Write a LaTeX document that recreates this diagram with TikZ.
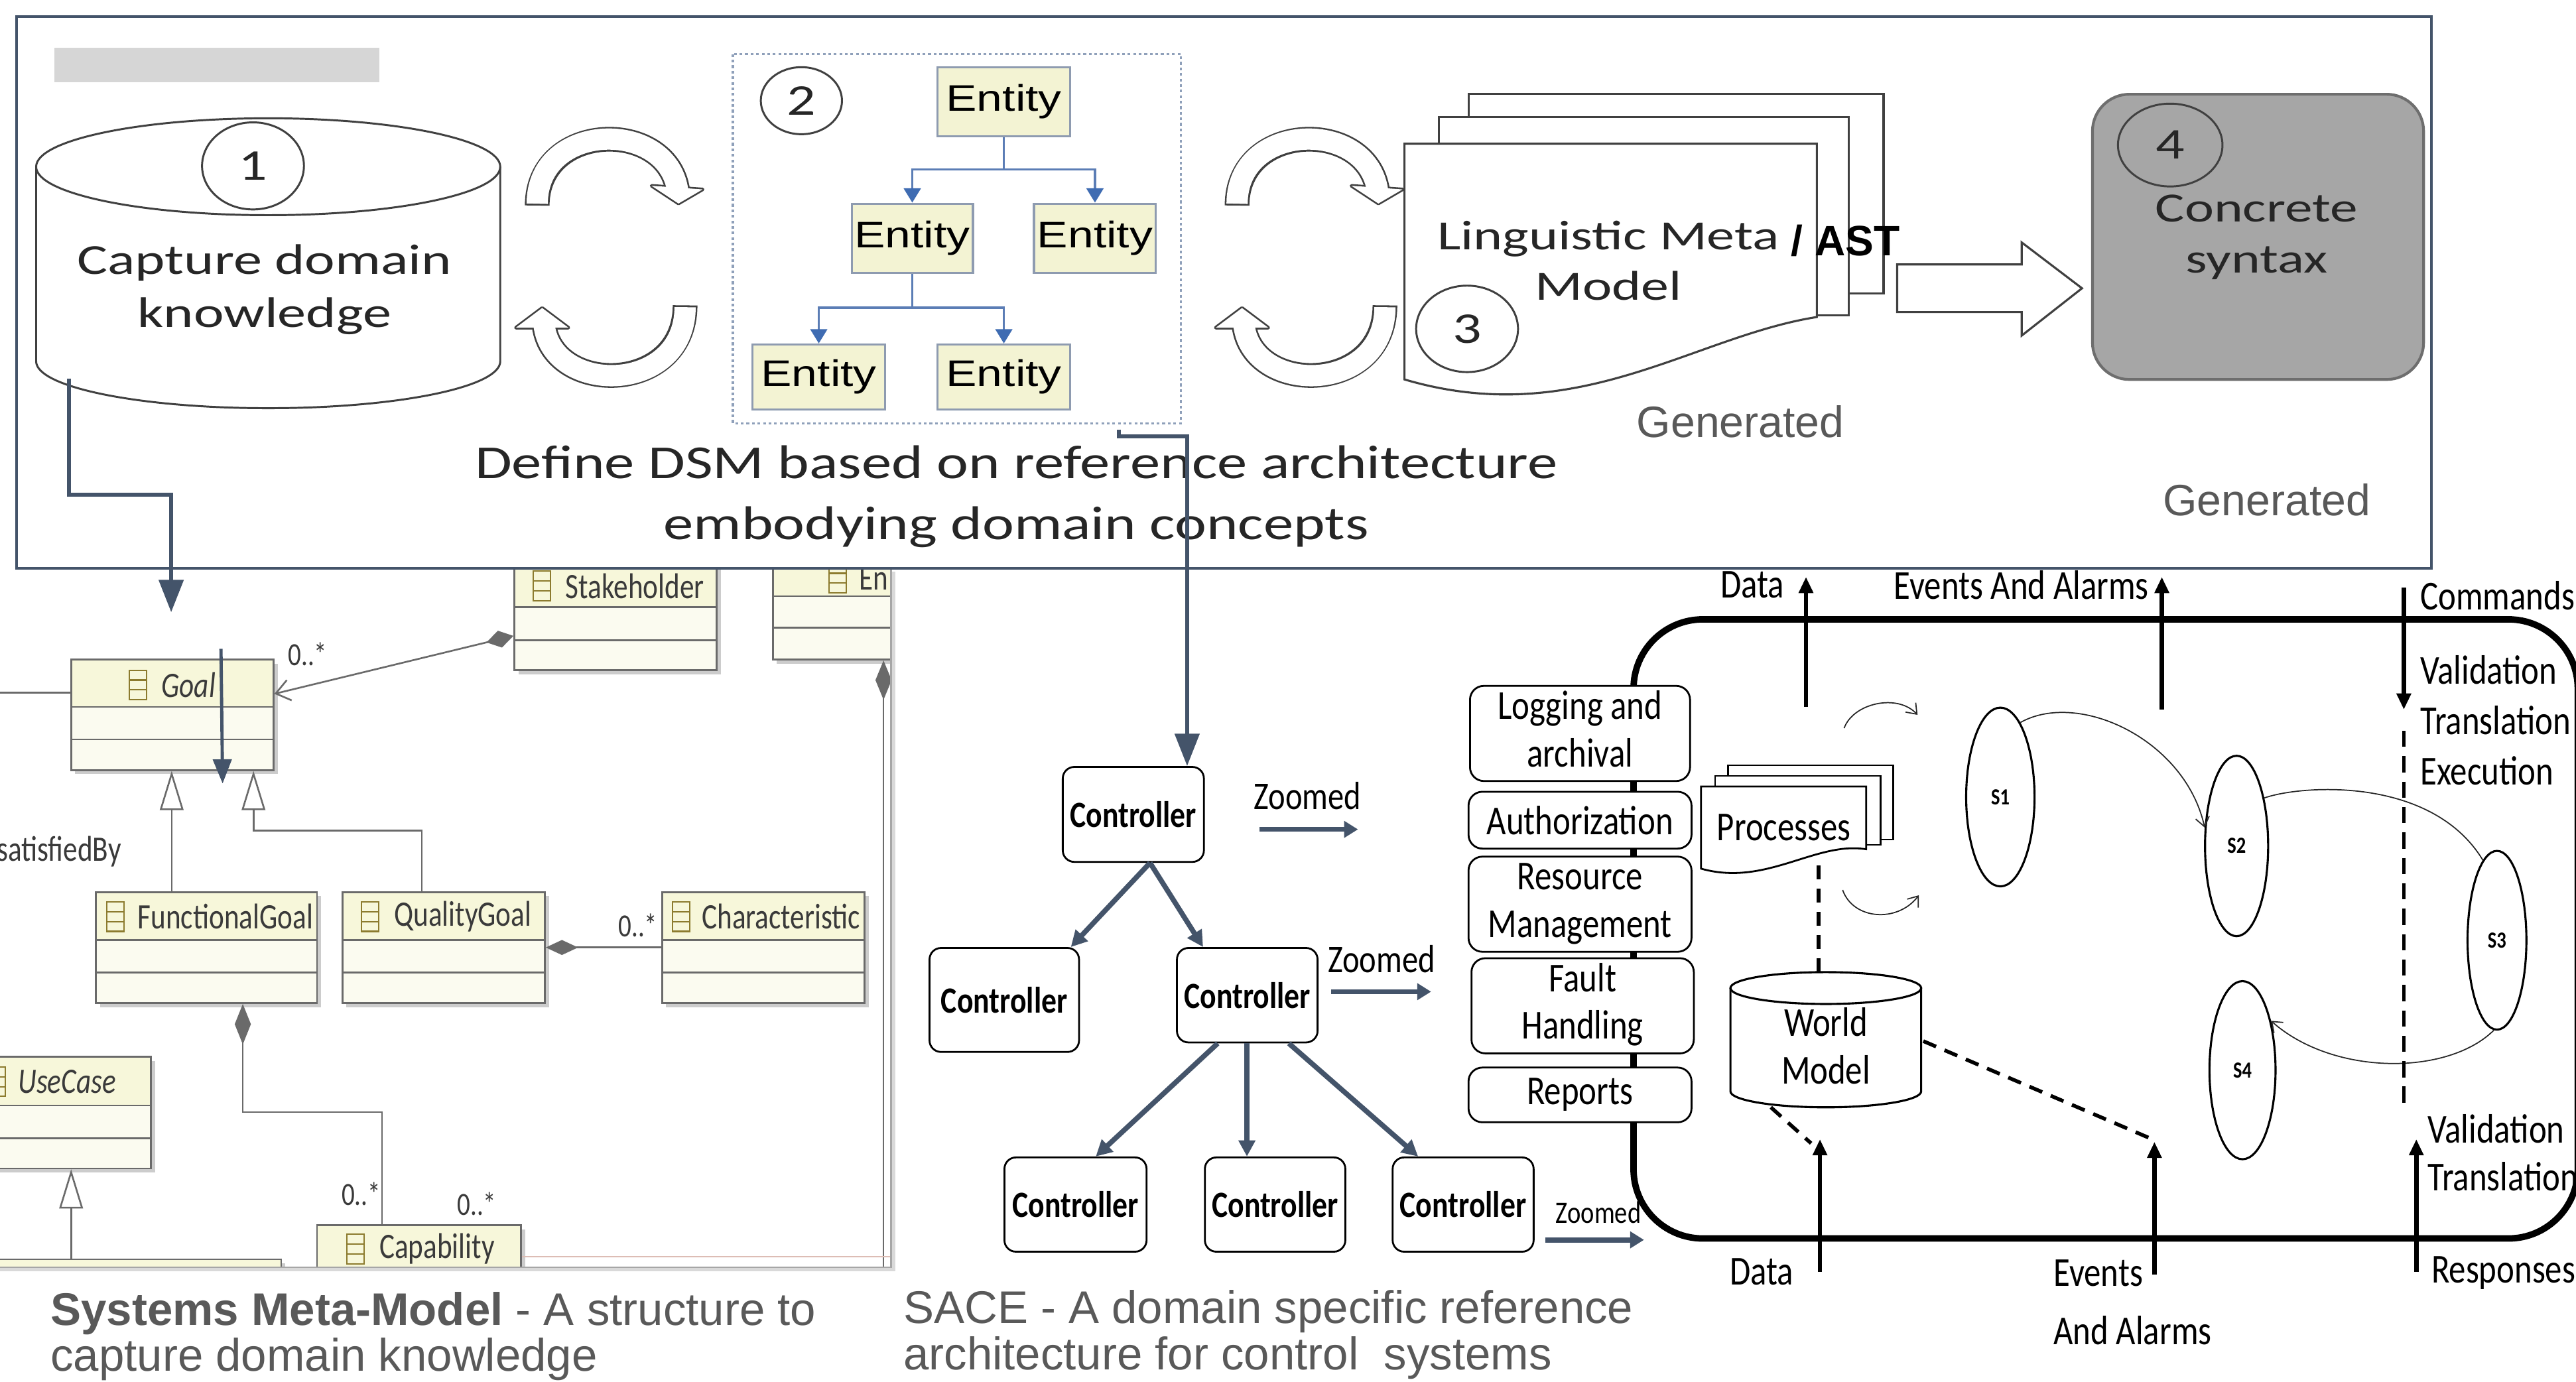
\documentclass[tikz,border=0pt]{standalone}
\usepackage{fontspec}
\usepackage{graphicx}
\setmainfont{Liberation Sans}
\newfontfamily\calfont{Carlito}
\usetikzlibrary{arrows.meta,shapes.geometric,calc}

\definecolor{slate}{HTML}{44546A}
\definecolor{capgray}{HTML}{595959}
\definecolor{txtdark}{HTML}{262626}
\definecolor{outl}{HTML}{404040}
\definecolor{entfill}{HTML}{F3F3D3}
\definecolor{entline}{HTML}{8E9BB0}
\definecolor{entconn}{HTML}{5B7DB5}
\definecolor{entarrow}{HTML}{3F6CB2}
\definecolor{dotline}{HTML}{8FA0BA}
\definecolor{boxgray}{HTML}{A6A6A6}
\definecolor{boxgrayline}{HTML}{6E6E6E}
\definecolor{umlfillA}{HTML}{F7F7DA}
\definecolor{umlfillB}{HTML}{FBFBF0}
\definecolor{umlline}{HTML}{6A6A6A}
\definecolor{umltext}{HTML}{3A3A3A}
\definecolor{iconc}{HTML}{8C7B2E}
\definecolor{pinkl}{HTML}{DDBDB5}
\definecolor{bargray}{HTML}{D6D6D6}

\newcommand{\fsz}[2]{\fontsize{#1}{#2}\selectfont}
\newcommand{\sxx}[2]{\scalebox{#1}[1]{#2}}
\newcommand{\nr}[1]{\scalebox{0.82}[1]{#1}}
\newcommand{\twol}[2]{\begin{tabular}{@{}c@{}}#1\\#2\end{tabular}}

\tikzset{
  umlnode/.style={rectangle, draw=umlline, fill=umlfillB, line width=0.7pt, inner sep=0pt},
  umltxt/.style={font=\calfont\fsz{15.5}{18}, text=umltext, inner sep=0pt},
  multtxt/.style={font=\calfont\fsz{14}{16}, text=umltext, inner sep=0pt},
  umlln/.style={draw=umlline, line width=0.75pt},
  clsicon/.pic={
    \draw[iconc, line width=0.6pt] (-5.2,-9) rectangle (5.2,9);
    \draw[iconc, line width=0.6pt] (-5.2,-3) -- (5.2,-3) (-5.2,3) -- (5.2,3);
  },
  numc/.style={ellipse, draw=outl, line width=0.85pt, inner sep=0pt, font=\calfont\fsz{19}{22}, text=txtdark},
  entity/.style={rectangle, draw=entline, fill=entfill, line width=0.9pt, inner sep=0pt, font=\fsz{16}{18}, text=black},
  entc/.style={draw=entconn, line width=1pt, -{Triangle[length=6.2pt,width=7.3pt,color=entarrow]}},
  gentxt/.style={font=\fsz{19}{22}, text=capgray, inner sep=0pt},
  ctrl/.style={rectangle, draw=black, line width=0.8pt, rounded corners=5pt, fill=white, inner sep=0pt, font=\calfont\bfseries\fsz{16}{18}},
  carrow/.style={draw=slate, line width=2.2pt, -{Triangle[length=7pt,width=7pt]}},
  zarr/.style={draw=slate, line width=2.2pt, -{Triangle[length=6pt,width=7pt]}},
  ztxt/.style={font=\calfont\fsz{17}{19}, inner sep=0pt},
  modbox/.style={rectangle, draw=black, line width=0.8pt, rounded corners=6pt, fill=white, inner sep=0pt, font=\calfont\fsz{17.8}{20.6}},
  sace/.style={font=\calfont\fsz{17.8}{20.6}, inner sep=0pt},
  stbox/.style={ellipse, draw=black, line width=0.9pt, inner sep=0pt, font=\calfont\bfseries\fsz{10}{12}},
  iarrow/.style={draw=black, line width=1.9pt, -{Triangle[length=7pt,width=6pt]}},
  thinarr/.style={draw=black!85, line width=0.5pt, -{Straight Barb[length=4pt,width=6pt]}},
  wdash/.style={draw=black, line width=1.6pt, dash pattern=on 6pt off 4pt},
  bluearr/.style={draw=slate, line width=1.7pt, -{Triangle[length=14pt,width=10.5pt]}},
  capt/.style={font=\fsz{19.8}{22}, text=capgray, inner sep=0pt},
}

\newcommand{\umlbox}[7]{%
  \fill[black!20] (#2+2.5,#3+2.5) rectangle (#4+2.5,#5+2.5);
  \node[umlnode, minimum width={(#4-(#2))*0.025cm}, minimum height={(#5-(#3))*0.025cm}] (#1) at ({(#2+#4)/2},{(#3+#5)/2}) {};
  \fill[umlfillA] (#2,#3) rectangle (#4,#6);
  \draw[umlln] (#2,#3) rectangle (#4,#5);
  \draw[umlln] (#2,#6) -- (#4,#6) (#2,#7) -- (#4,#7);
}
\newcommand{\umltitle}[5]{%
  \pic at (#2,#4) {clsicon};
  \node[umltxt, anchor=west] (#1) at (#3,#4) {\sxx{0.8}{#5}};
}
\newcommand{\hollowpair}[1]{%
 \begin{scope}[shift={(#1,0)}]
  \draw[outl, line width=10.7pt, shorten <=-0.8pt] (327,124) .. controls (327,74) and (406,72) .. (412.5,116);
  \draw[outl, line width=10.7pt, shorten <=-0.8pt] (417,187) .. controls (417,241) and (334,241) .. (331,196);
  \filldraw[outl, line width=1.5pt, line join=round] (396.6,113.1) -- (427.7,115.3) -- (413,123.9) -- cycle;
  \filldraw[outl, line width=1.5pt, line join=round] (314,199.5) -- (346,199.5) -- (330,187.5) -- cycle;
  \draw[white, line width=9.2pt] (327,124) .. controls (327,74) and (406,72) .. (412.5,116);
  \draw[white, line width=9.2pt] (417,187) .. controls (417,241) and (334,241) .. (331,196);
  \fill[white] (396.6,113.1) -- (427.7,115.3) -- (413,123.9) -- cycle;
  \fill[white] (314,199.5) -- (346,199.5) -- (330,187.5) -- cycle;
 \end{scope}}

\begin{document}
\begin{tikzpicture}[x=0.025cm, y=-0.025cm]
\useasboundingbox (0,0) rectangle (1568,841);
\clip (0,0) rectangle (1568,841);
\fill[white] (0,0) rectangle (1568,841);

% ================= UML meta-model crop =================
\begin{scope}
\clip (0,340) rectangle (542.5,771.5);
\umlbox{stake}{313}{344}{436.2}{408}{369.5}{389.7}
\umltitle{stakeT}{329.75}{344}{356.7}{Stakeholder}
\umlbox{enb}{470.4}{341}{580}{401.6}{363}{382}
\umltitle{enT}{510}{522.7}{352}{En}
\umlbox{goal}{43.3}{401.6}{166.5}{468.8}{430.4}{450.2}
\umltitle{goalT}{84}{98}{417}{\itshape Goal}
\umlbox{fgoal}{58.4}{543.1}{192.9}{610.7}{572.3}{592.1}
\umltitle{fgoalT}{70.3}{83.6}{558}{FunctionalGoal}
\umlbox{qgoal}{208.4}{543.1}{331.7}{610.7}{572.3}{592.1}
\umltitle{qgoalT}{225.3}{239.7}{558}{QualityGoal}
\umlbox{charb}{403}{543.1}{526.3}{610.7}{572.3}{592.1}
\umltitle{charT}{414.5}{427}{558}{Characteristic}
\umlbox{usecase}{-20}{643.4}{91.9}{711.3}{672.9}{693}
\umltitle{usecaseT}{-2}{10.8}{658.5}{\itshape UseCase}
\umlbox{capb}{192.9}{745.9}{317.2}{800}{774.7}{790}
\umltitle{capT}{216.3}{230.7}{760.3}{Capability}
\umlbox{botb}{-10}{766.7}{171.2}{820}{795}{810}

\coordinate (glin) at (0,421.7);
\draw[umlln] (glin) -- (glin -| goal.west);
\draw[umlln, {Diamond[length=12pt,width=7.5pt]}-{Straight Barb[length=6pt,width=9pt]}] (stake.west |- 0,387.1) -- (goal.east |- 0,422.4);
\draw[umlln, -{Triangle[open,length=17pt,width=10.2pt]}] (fgoal.north -| 104.5,0) -- (goal.south -| 104.5,0);
\draw[umlln, -{Triangle[open,length=17pt,width=10.2pt]}] (qgoal.north -| 256.7,0) -- (256.7,505.7) -- (154.3,505.7) -- (goal.south -| 154.3,0);
\draw[umlln, {Diamond[length=14pt,width=6.5pt]}-] (qgoal.east |- 0,576.8) -- (charb.west |- 0,576.8);
\draw[umlln, {Diamond[length=17.5pt,width=7pt]}-] (fgoal.south -| 147.8,0) -- (147.8,677) -- (232.5,677) -- (capb.north -| 232.5,0);
\draw[umlln, {Diamond[length=17pt,width=7pt]}-] (enb.south -| 537.8,0) -- (537.8,775);
\draw[draw=pinkl, line width=0.7pt] (capb.east |- 0,765) -- (542.5,765);
\draw[umlln, -{Triangle[open,length=17pt,width=10.2pt]}] (botb.north -| 43.3,0) -- (usecase.south -| 43.3,0);

\node[umltxt, anchor=east] (satby) at (74,518.5) {\sxx{0.8}{satisfiedBy}};
\node[multtxt] (m1) at (187.3,398.4) {\sxx{0.8}{0..*}};
\node[multtxt] (m2) at (388.3,563.3) {\sxx{0.8}{0..*}};
\node[multtxt] (m3) at (219.8,726.7) {\sxx{0.8}{0..*}};
\node[multtxt] (m4) at (290.2,733) {\sxx{0.8}{0..*}};
\end{scope}
\draw[black!15, line width=1.5pt] (544,348) -- (544,773) -- (0,773);
\draw[black!35, line width=0.8pt] (542.5,346) -- (542.5,771.5) -- (0,771.5);

% ================= Top frame =================
\draw[slate, line width=1.2pt, fill=white] (10,10) rectangle (1480,346);
\fill[bargray] (33,29) rectangle (231,50);

% cylinder 1
\fill[white] (22,101.5) -- (22,220) arc[start angle=180, end angle=0, x radius=141.25, y radius=28.5] -- (304.5,101.5) -- cycle;
\draw[outl, line width=0.85pt] (22,101.5) -- (22,220) arc[start angle=180, end angle=0, x radius=141.25, y radius=28.5] -- (304.5,101.5);
\draw[outl, line width=0.85pt] (163.25,101.5) ellipse [x radius=141.25, y radius=29.5];
\node[numc, minimum width=1.55cm, minimum height=1.325cm] (n1) at (154,101) {\sxx{1.3}{1}};
\node[font=\calfont\fsz{18.5}{23}, text=txtdark, inner sep=0pt] (captT) at (161,176.5) {\sxx{1.34}{\twol{Capture domain}{knowledge}}};

% hollow cycle arrows
\hollowpair{0}
\hollowpair{426}

% box 2
\draw[dotline, line width=0.9pt, dash pattern=on 1.2pt off 1.2pt] (446.1,33) rectangle (718.8,257.6);
\node[numc, minimum width=1.235cm, minimum height=1.02cm] (n2) at (487.8,61.3) {\sxx{1.3}{2}};
\node[entity, minimum width=2.0225cm, minimum height=1.05cm] (e1) at (611.05,62) {\sxx{1.25}{Entity}};
\node[entity, minimum width=1.845cm, minimum height=1.05cm] (e2) at (555.3,145) {\sxx{1.25}{Entity}};
\node[entity, minimum width=1.855cm, minimum height=1.05cm] (e3) at (666.5,145) {\sxx{1.25}{Entity}};
\node[entity, minimum width=2.02cm, minimum height=0.99cm] (e4) at (498.4,229.5) {\sxx{1.25}{Entity}};
\node[entity, minimum width=2.0225cm, minimum height=0.99cm] (e5) at (611.05,229.5) {\sxx{1.25}{Entity}};
\coordinate (j1) at (611.05,103.2);
\draw[draw=entconn, line width=1pt] (e1.south) -- (j1);
\draw[entc] (j1) -| (e2.north);
\draw[entc] (j1) -| (e3.north);
\coordinate (j2) at (555.3,187.4);
\draw[draw=entconn, line width=1pt] (e2.south) -- (j2);
\draw[entc] (j2) -| (e4.north);
\draw[entc] (j2) -| (e5.north);

% box 3 (document stack)
\draw[outl, line width=0.9pt, fill=white] (894,57) rectangle (1146.5,178.5);
\draw[outl, line width=0.9pt, fill=white] (876,71.4) rectangle (1125.4,192);
\draw[outl, line width=0.9pt, fill=white] (854.9,87.5) -- (1105.9,87.5) -- (1105.9,193) .. controls (1030,205) and (960,262) .. (854.9,231) -- cycle;
\node[font=\calfont\fsz{18}{21.7}, text=txtdark, inner sep=0pt] (lmm) at (979,161.2) {\sxx{1.34}{\twol{Linguistic Meta}{Model}}};
\node[font=\bfseries\fsz{18.4}{20}, text=black, inner sep=0pt, anchor=west] (ast) at (1090,146.6) {/ AST};
\node[numc, minimum width=1.55cm, minimum height=1.315cm] (n3) at (893,200.2) {\sxx{1.3}{3}};

% big hollow arrow
\draw[outl, line width=0.9pt, fill=white, line join=miter] (1154.8,161) -- (1230.6,161) -- (1230.6,147.6) -- (1267.3,175.5) -- (1230.6,204.3) -- (1230.6,190) -- (1154.8,190) -- cycle;

% box 4
\node[rectangle, draw=boxgrayline, line width=1.2pt, fill=boxgray, rounded corners=16pt, minimum width=5.0375cm, minimum height=4.34cm, inner sep=0pt] (b4) at (1374.45,144.2) {};
\node[font=\calfont\fsz{18}{22}, text=txtdark, inner sep=0pt] (conc) at (1373.5,144.5) {\sxx{1.33}{\twol{Concrete}{syntax}}};
\node[numc, minimum width=1.59cm, minimum height=1.26cm] (n4) at (1321,88.3) {\sxx{1.3}{4}};

\node[gentxt] (gen1) at (1059.4,256.8) {Generated};
\node[gentxt] (gen2) at (1379.8,304.2) {Generated};
\node[font=\calfont\fsz{20.5}{26.3}, text=txtdark, inner sep=0pt] (dsm) at (618.5,302.5) {\sxx{1.27}{\twol{Define DSM based on reference architecture}{embodying domain concepts}}};

% ================= SACE controllers =================
\node[ctrl, minimum width=2.1475cm, minimum height=1.445cm] (c1) at (689.85,495.8) {\nr{Controller}};
\node[ctrl, minimum width=2.275cm, minimum height=1.5825cm] (c2) at (611.3,608.75) {\nr{Controller}};
\node[ctrl, minimum width=2.14cm, minimum height=1.4375cm] (c3) at (759.2,605.85) {\nr{Controller}};
\node[ctrl, minimum width=2.1625cm, minimum height=1.435cm] (c4) at (654.65,733.3) {\nr{Controller}};
\node[ctrl, minimum width=2.1375cm, minimum height=1.435cm] (c5) at (776.15,733.3) {\nr{Controller}};
\node[ctrl, minimum width=2.145cm, minimum height=1.435cm] (c6) at (890.6,733.3) {\nr{Controller}};
\draw[carrow] (c1.south -| 700,0) -- (c2.north -| 651.8,0);
\draw[carrow] (c1.south -| 700,0) -- (c3.north -| 732.3,0);
\draw[carrow] (c3.south -| 741.2,0) -- (c4.north -| 667,0);
\draw[carrow] (c3.south -| 759,0) -- (c5.north -| 759,0);
\draw[carrow] (c3.south -| 784.5,0) -- (c6.north -| 863.2,0);

\node[ztxt] (z1) at (795.8,484.6) {\nr{Zoomed}};
\coordinate (z1a) at (766.5,504.9); \coordinate (z1b) at (826.6,504.9);
\draw[zarr] (z1a) -- (z1b);
\node[ztxt] (z2) at (841,584) {\nr{Zoomed}};
\coordinate (z2a) at (810.3,603.7); \coordinate (z2b) at (871.1,603.7);
\draw[zarr] (z2a) -- (z2b);
\node[font=\calfont\fsz{13.5}{15}, inner sep=0pt] (z3) at (973,738.2) {\nr{Zoomed}};
\coordinate (z3a) at (940.5,754.8); \coordinate (z3b) at (1000.7,754.8);
\draw[zarr] (z3a) -- (z3b);

% ================= SACE architecture =================
\node[rectangle, draw=black, line width=2.8pt, rounded corners=30pt, minimum width=14.365cm, minimum height=9.42cm, inner sep=0pt] (sacebox) at (1281.7,565.5) {};

\node[modbox, minimum width=3.3475cm, minimum height=1.405cm] (logm) at (961.75,446.5) {\nr{\twol{Logging and}{archival}}};
\node[modbox, minimum width=3.3925cm, minimum height=0.865cm] (auth) at (961.75,499.3) {\nr{Authorization}};
\node[modbox, minimum width=3.3925cm, minimum height=1.3725cm] (resm) at (961.75,550.45) {\nr{\twol{Resource}{Management}}};
\node[modbox, minimum width=3.3825cm, minimum height=1.395cm] (fault) at (963.35,612.3) {\nr{\twol{Fault}{Handling}}};
\node[modbox, minimum width=3.3925cm, minimum height=0.8325cm] (rep) at (961.75,666.55) {\nr{Reports}};

% processes
\draw[black, line width=0.8pt, fill=white] (1052,465.9) rectangle (1152.4,511.1);
\draw[black, line width=0.8pt, fill=white] (1044,472.3) rectangle (1144.8,514.3);
\draw[black, line width=0.8pt, fill=white] (1035.4,478.8) -- (1135.9,478.8) -- (1135.9,517) .. controls (1105,512) and (1075,540) .. (1035.4,528.8) -- cycle;
\node[sace] (proc) at (1085.9,503.7) {\nr{Processes}};

% dashed links
\coordinate (procb) at (1106.9,527);
\coordinate (wmtop) at (1106.9,592);
\draw[wdash] (procb) -- (wmtop);
\coordinate (wmr) at (1170.7,633.8); \coordinate (evt) at (1310,693.5);
\draw[wdash] (wmr) -- (evt);
\coordinate (wml) at (1077.9,674.1); \coordinate (dat) at (1102.4,696);
\draw[wdash] (wml) -- (dat);

% world model cylinder
\fill[white] (1053.3,601.5) -- (1053.3,664.4) arc[start angle=180, end angle=0, x radius=58.05, y radius=9.7] -- (1169.4,601.5) -- cycle;
\fill[white] (1111.35,601.5) ellipse [x radius=58.05, y radius=9.7];
\draw[black, line width=0.9pt] (1053.3,601.5) -- (1053.3,664.4) arc[start angle=180, end angle=0, x radius=58.05, y radius=9.7] -- (1169.4,601.5);
\draw[black, line width=0.9pt] (1111.35,601.5) ellipse [x radius=58.05, y radius=9.7];
\node[sace] (wm) at (1111.4,639.5) {\nr{\twol{World}{Model}}};

% states
\node[stbox, minimum width=1.04cm, minimum height=2.72cm] (s1) at (1217.6,485.2) {\nr{S1}};
\node[stbox, minimum width=0.96cm, minimum height=2.745cm] (s2) at (1361.4,515) {\nr{S2}};
\node[stbox, minimum width=0.895cm, minimum height=2.72cm] (s3) at (1519.9,572.4) {\nr{S3}};
\node[stbox, minimum width=1.005cm, minimum height=2.71cm] (s4) at (1365,651.5) {\nr{S4}};
\draw[thinarr] (s1.75) .. controls (1265,420) and (1330,450) .. (s2.150);
\draw[draw=black!85, line width=0.5pt] (s2.60) .. controls (1400,478) and (1480,472) .. (s3.100);
\draw[thinarr] (s3.268) .. controls (1490,655) and (1420,655) .. (s4.60);

\coordinate (pa1) at (1122.5,443.3); \coordinate (pa2) at (1167.2,435.2);
\draw[thinarr] (pa1) .. controls (1128,428) and (1155,422) .. (pa2);
\coordinate (pb1) at (1121.6,541.8); \coordinate (pb2) at (1168,545);
\draw[thinarr] (pb1) .. controls (1128,560) and (1155,562) .. (pb2);

% interface arrows
\coordinate (dt1) at (1099.3,430.4); \coordinate (dt2) at (1099.3,351.2);
\draw[iarrow] (dt1) -- (dt2);
\coordinate (et1) at (1315.9,432); \coordinate (et2) at (1315.9,351.2);
\draw[iarrow] (et1) -- (et2);
\coordinate (cm1) at (1463.2,357.7); \coordinate (cm2) at (1463.2,432);
\draw[iarrow] (cm1) -- (cm2);
\coordinate (cd1) at (1463.2,444.9); \coordinate (cd2) at (1463.2,675.7);
\draw[wdash, line width=1.5pt, dash pattern=on 7pt off 4pt] (cd1) -- (cd2);
\coordinate (db1) at (1107.8,774.2); \coordinate (db2) at (1107.8,693.5);
\draw[iarrow] (db1) -- (db2);
\coordinate (eb1) at (1311.4,775.8); \coordinate (eb2) at (1311.4,695.1);
\draw[iarrow] (eb1) -- (eb2);
\coordinate (rb1) at (1470.8,774.2); \coordinate (rb2) at (1470.8,693.5);
\draw[iarrow] (rb1) -- (rb2);

\node[sace] (ldata) at (1066.7,356.1) {\nr{Data}};
\node[sace] (levt) at (1230.4,356.1) {\nr{Events And Alarms}};
\node[sace, anchor=west] (lcmd) at (1473,362.5) {\nr{Commands}};
\node[sace, anchor=west] (lval) at (1473,407.8) {\nr{Validation}};
\node[sace, anchor=west] (ltr) at (1473,438.4) {\nr{Translation}};
\node[sace, anchor=west] (lexe) at (1473,469.1) {\nr{Execution}};
\node[sace] (ldata2) at (1072.3,774.2) {\nr{Data}};
\node[sace, anchor=west] (levb) at (1249.8,774.9) {\nr{Events}};
\node[sace, anchor=west] (laa) at (1249.8,809.8) {\nr{And Alarms}};
\node[sace, anchor=west] (lresp) at (1479.7,774.9) {\nr{Responses}};
\node[sace, anchor=west] (lval2) at (1477.5,687) {\nr{Validation}};
\node[sace, anchor=west] (ltr2) at (1477.5,716.1) {\nr{Translation}};

% ================= captions =================
\node[capt, anchor=base west] (cap1a) at (30.6,807) {\textbf{Systems Meta-Model} - A structure to};
\node[capt, anchor=base west] (cap1b) at (30.6,834.5) {capture domain knowledge};
\node[capt, anchor=base west] (cap2a) at (549.7,805.5) {SACE - A domain specific reference};
\node[capt, anchor=base west] (cap2b) at (549.7,834) {architecture for control\ \ systems};

% ================= linking connectors =================
\coordinate (cylb) at (41.9,230.7);
\coordinate (goalin) at (104.2,372.7);
\draw[bluearr] (cylb) -- (41.9,301.2) -- (104.2,301.2) -- (goalin);
\coordinate (e2b) at (681,261.5);
\draw[bluearr] (e2b) -- (681,265.7) -- (722.6,265.7) -- (c1.north -| 722.6,0);
\coordinate (ga1) at (134.5,395); \coordinate (ga2) at (135.5,477);
\draw[slate, line width=1.4pt, -{Triangle[length=10.5pt,width=8pt]}] (ga1) -- (ga2);
\end{tikzpicture}
\end{document}
